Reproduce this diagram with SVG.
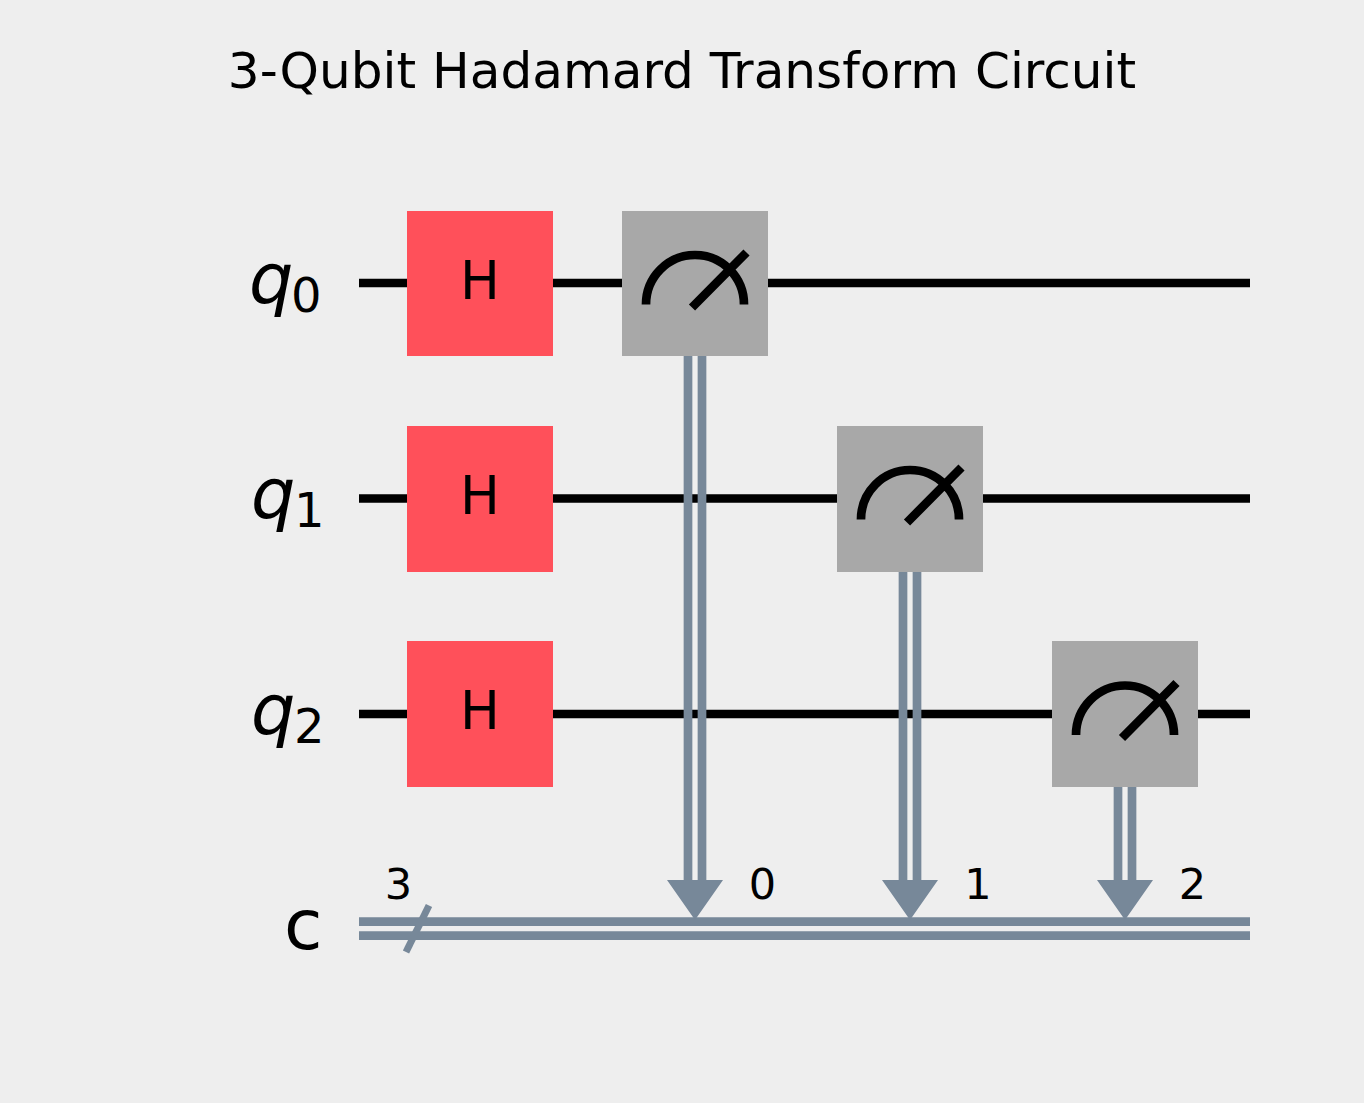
<svg xmlns="http://www.w3.org/2000/svg" width="1364" height="1103" viewBox="0 0 1364 1103">
<style>
text{font-family:"DejaVu Sans",sans-serif;fill:#000}
.w{stroke:#000;stroke-width:8.700;fill:none}
.c{stroke:#778899;stroke-width:8.700;fill:none}
.t{stroke:#778899;stroke-width:7;fill:none}
.h{fill:#ff505a}
.m{fill:#a8a8a8}
.g{font-size:53px;text-anchor:middle}
.n{font-size:43px;text-anchor:middle}
.q{font-size:70px;font-style:italic}
.s{font-size:48px}
.a{fill:#778899}
</style>
<rect width="1364" height="1103" fill="#eeeeee"/>
<text x="682" y="88" font-size="50.100" text-anchor="middle">3-Qubit Hadamard Transform Circuit</text>
<g id="connectors">
<path class="w" d="M359 283H1250M359 498.500H1250M359 714H1250"/>
<path class="c" d="M688 356V885M702 356V885M903 571V885M917 571V885M1118 787V885M1132 787V885"/>
<path class="c" d="M359 921.700H1250M359 935.700H1250"/>
<path class="t" d="M406 952L429 905.500"/>
<path class="a" d="M667 880H723L695 920ZM882 880H938L910 920ZM1097 880H1153L1125 920Z"/>
</g>
<g id="label-q0"><text class="q" x="249" y="303">q</text><text class="s" x="291" y="312">0</text></g>
<g id="label-q1"><text class="q" x="251" y="518">q</text><text class="s" x="294" y="527">1</text></g>
<g id="label-q2"><text class="q" x="251" y="734">q</text><text class="s" x="294" y="743">2</text></g>
<g id="label-c"><text x="284" y="949" font-size="70">c</text></g>
<g id="h0"><rect class="h" x="407" y="211" width="146" height="145"/><text class="g" x="480" y="299">H</text></g>
<g id="h1"><rect class="h" x="407" y="426" width="146" height="146"/><text class="g" x="480" y="514">H</text></g>
<g id="h2"><rect class="h" x="407" y="641" width="146" height="146"/><text class="g" x="480" y="729">H</text></g>
<g id="m0"><rect class="m" x="622" y="211" width="146" height="145"/><path class="w" d="M646 304.500A49 49.500 0 0 1 744 304.500M692 307.500L746.500 252.500"/></g>
<g id="m1"><rect class="m" x="837" y="426" width="146" height="146"/><path class="w" d="M861 519.500A49 49.500 0 0 1 959 519.500M907 522.500L961.500 467.500"/></g>
<g id="m2"><rect class="m" x="1052" y="641" width="146" height="146"/><path class="w" d="M1076 735A49 49.500 0 0 1 1174 735M1122 738L1176.500 683"/></g>
<g id="labels">
<text class="n" x="398.500" y="899">3</text>
<text class="n" x="762.500" y="899">0</text>
<text class="n" x="978" y="899">1</text>
<text class="n" x="1192.500" y="899">2</text>
</g>
</svg>
